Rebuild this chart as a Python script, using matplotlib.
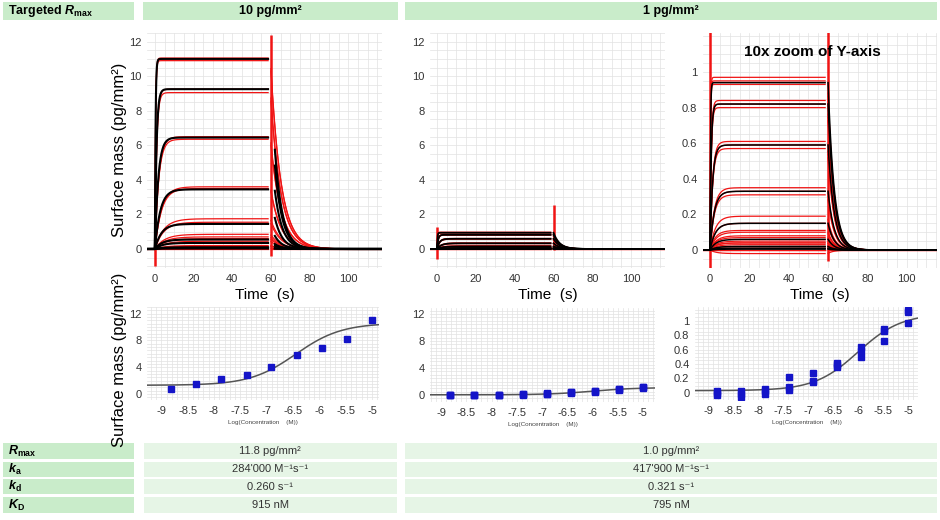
import numpy as np
import matplotlib.pyplot as plt
from matplotlib.patches import Rectangle
from matplotlib.ticker import MultipleLocator

plt.rcParams['font.family'] = ['Liberation Sans', 'DejaVu Sans']
plt.rcParams['mathtext.fontset'] = 'custom'
plt.rcParams['mathtext.rm'] = 'Liberation Sans'
plt.rcParams['mathtext.it'] = 'Liberation Sans:italic'
plt.rcParams['mathtext.bf'] = 'Liberation Sans:bold'
plt.rcParams['mathtext.bfit'] = 'Liberation Sans:bold:italic'

W, H = 940, 520

# --- fitted kinetic constants (table) ---
rmax_10, ka_10, kd_10, KD_10 = 11.8, 284000, 0.260, 915
rmax_1, ka_1, kd_1, KD_1 = 1.0, 417900, 0.321, 795

# analyte concentrations, log10(M), low -> high
log_conc = [-8.82, -8.34, -7.86, -7.38, -6.91, -6.43, -5.95, -5.48, -5.0]

# sensorgram plateau levels (pg/mm2), low -> high conc
fit_10 = [0.03, 0.1, 0.35, 0.55, 1.45, 3.45, 6.45, 9.25, 11.0]
red_10_a = [0.05, 0.2, 0.6, 0.85, 1.75, 3.6, 6.5, 9.25, 11.05]
red_10_b = [0.0, 0.15, 0.45, 0.7, 1.55, 3.5, 6.35, 9.05, 10.9]
red_decay_10 = 0.19

fit_1 = [0.005, 0.01, 0.02, 0.06, 0.15, 0.33, 0.59, 0.82, 0.94]
red_1_a = [0.03, 0.05, 0.08, 0.1, 0.19, 0.35, 0.61, 0.84, 0.97]
red_1_b = [0.0, 0.02, 0.04, 0.07, 0.15, 0.33, 0.59, 0.82, 0.95]
red_1_c = [-0.02, 0.0, 0.01, 0.04, 0.11, 0.31, 0.57, 0.8, 0.93]

# injection artefacts (time, low, high)
spikes_10 = [(0, -1.0, 0.8), (60, -0.4, 12.4)]
spikes_1_full = [(0, -0.6, 1.3), (60, -0.05, 2.55)]
spikes_1_zoom = [(0, -0.1, 1.25), (60, -0.06, 1.25)]

# dose response points
dose_10 = [0.8, 1.5, 2.2, 2.9, 4.1, 5.9, 6.9, 8.2, 11.1]
dose_1_a = [0.03, 0.03, 0.05, 0.22, 0.27, 0.42, 0.64, 0.88, 1.15]
dose_1_b = [0.0, -0.02, 0.02, 0.08, 0.16, 0.38, 0.58, 0.86, 1.12]
dose_1_c = [-0.03, -0.06, -0.02, 0.04, 0.15, 0.36, 0.5, 0.72, 0.97]

# steady-state fit (bottom, top, logEC50)
hill_10 = (1.3, 10.6, -6.45)
hill_1 = (0.03, 1.1, -6.0)


def px(x0, y0, x1, y1):
    return [x0 / W, 1 - y1 / H, (x1 - x0) / W, (y1 - y0) / H]


def sensorgram(level, logc, ka, kd, t_start, t_ref):
    kobs = ka * 10 ** logc + kd
    t1 = np.linspace(-4, 58.5, 400)
    r1 = np.where(t1 < 0, 0, level * (1 - np.exp(-kobs * np.clip(t1, 0, None))))
    t2 = np.linspace(t_start, 117, 300)
    r2 = level * np.exp(-kd * (t2 - t_ref))
    return t1, r1, t2, r2


def style(ax, xlim, ylim, xminor, yminor, labelsize=8):
    for s in ax.spines.values():
        s.set_visible(False)
    ax.set_xlim(*xlim)
    ax.set_ylim(*ylim)
    ax.xaxis.set_minor_locator(MultipleLocator(xminor))
    ax.yaxis.set_minor_locator(MultipleLocator(yminor))
    ax.grid(which='both', color='#e2e2e2', lw=0.5)
    ax.set_axisbelow(True)
    ax.tick_params(which='both', length=0, labelsize=labelsize, colors='#333333', pad=4)


fig = plt.figure(figsize=(W / 100, H / 100), dpi=100)

# --- header ---
header_green = '#c9ecca'
for x0, x1 in [(3, 134), (143, 398), (405, 937)]:
    fig.add_artist(Rectangle((x0 / W, 1 - 20 / H), (x1 - x0) / W, 18 / H,
                             transform=fig.transFigure, color=header_green, lw=0))
fig.text(8 / W, 1 - 11 / H, r'Targeted $\mathbfit{R}_{\mathbf{max}}$', fontsize=9,
         fontweight='bold', va='center')
fig.text(270 / W, 1 - 11 / H, '10 pg/mm²', fontsize=9, fontweight='bold', ha='center', va='center')
fig.text(671 / W, 1 - 11 / H, '1 pg/mm²', fontsize=9, fontweight='bold', ha='center', va='center')

# --- sensorgrams ---
panels = [
    (px(147, 33, 382, 268), (-4.1, 117.4), (-1.1, 12.5), fit_10, [red_10_a, red_10_b],
     ka_10, kd_10, red_decay_10, (62, 59.5), spikes_10, [0, 2, 4, 6, 8, 10, 12], 0.5, 1.5),
    (px(430, 33, 665, 268), (-3.6, 117.4), (-1.1, 12.5), fit_1, [red_1_a, red_1_b, red_1_c],
     ka_1, kd_1, kd_1, (60, 60), spikes_1_full, [0, 2, 4, 6, 8, 10, 12], 0.5, 1.3),
    (px(703, 33, 937, 268), (-3.6, 115.4), (-0.101, 1.219), fit_1, [red_1_a, red_1_b, red_1_c],
     ka_1, kd_1, kd_1, (60, 60), spikes_1_zoom, [0, 0.2, 0.4, 0.6, 0.8, 1], 0.05, 1.1),
]
for rect, xl, yl, fits, reds, ka, kd, kd_red, (t_start, t_ref), spikes, yt, yminor, blw in panels:
    ax = fig.add_axes(rect)
    style(ax, xl, yl, 5, yminor)
    for reps in reds:
        for lev, lc in zip(reps, log_conc):
            t1, r1, t2, r2 = sensorgram(lev, lc, ka, kd_red, 60, 59.7)
            ax.plot(t1, r1, color='#f01414', lw=0.9)
            ax.plot(t2, r2, color='#f01414', lw=0.9)
    for t, lo, hi in spikes:
        ax.vlines(t, lo, hi, color='#f01414', lw=1.8)
    for lev, lc in zip(fits, log_conc):
        t1, r1, t2, r2 = sensorgram(lev, lc, ka, kd, t_start, t_ref)
        ax.plot(t1, r1, color='black', lw=blw)
        ax.plot(t2, r2, color='black', lw=blw)
    ax.set_xticks([0, 20, 40, 60, 80, 100])
    ax.set_yticks(yt, [f'{v:g}' for v in yt])
    ax.set_xlabel('Time  (s)', fontsize=11, labelpad=3)

ax.text(52, 1.11, '10x zoom of Y-axis', fontsize=11, fontweight='bold', ha='center', va='center')

fig.text(120 / W, 1 - 150 / H, 'Surface mass (pg/mm²)', rotation=90, fontsize=12,
         ha='center', va='center')
fig.text(120 / W, 1 - 360 / H, 'Surface mass (pg/mm²)', rotation=90, fontsize=12,
         ha='center', va='center')

# --- steady-state affinity plots ---
xt = [-9, -8.5, -8, -7.5, -7, -6.5, -6, -5.5, -5]
bottoms = [
    (px(147, 307, 379, 400), (-9.27, -4.87), (-0.9, 13.0), [dose_10], hill_10, [0, 4, 8, 12], 0.5),
    (px(430, 308, 655, 402), (-9.22, -4.76), (-1.04, 12.9), [dose_1_a, dose_1_b, dose_1_c], hill_1,
     [0, 4, 8, 12], 0.5),
    (px(695, 307, 918, 400), (-9.26, -4.8), (-0.1, 1.19), [dose_1_a, dose_1_b, dose_1_c], hill_1,
     [0, 0.2, 0.4, 0.6, 0.8, 1], 0.05),
]
for rect, xl, yl, sets, (bot, top, ec50), yt, yminor in bottoms:
    ax = fig.add_axes(rect)
    style(ax, xl, yl, 0.1, yminor, labelsize=8)
    xx = np.linspace(xl[0], xl[1], 200)
    ax.plot(xx, bot + (top - bot) / (1 + 10 ** (ec50 - xx)), color='#555555', lw=1.1, zorder=2)
    for ys in sets:
        ax.plot(log_conc, ys, 's', color='#1414c8', ms=4.5, zorder=3)
    ax.set_xticks(xt, [f'{v:g}' for v in xt])
    ax.set_yticks(yt, [f'{v:g}' for v in yt])
    ax.set_xlabel('Log(Concentration    (M))', fontsize=4.5, color='#444444', labelpad=3)

# --- results table ---
label_green = '#c9ecca'
value_green = '#e6f5e6'
rows = [(443, 459), (462, 477), (479, 494), (497, 513)]
row_labels = [r'$\mathbfit{R}_{\mathbf{max}}$', r'$\mathbfit{k}_{\mathbf{a}}$',
              r'$\mathbfit{k}_{\mathbf{d}}$', r'$\mathbfit{K}_{\mathbf{D}}$']


def fmt_k(v):
    return f'{v:,}'.replace(',', "'")


col_10 = [f'{rmax_10:.1f} pg/mm²', f'{fmt_k(ka_10)} M⁻¹s⁻¹', f'{kd_10:.3f} s⁻¹', f'{KD_10} nM']
col_1 = [f'{rmax_1:.1f} pg/mm²', f'{fmt_k(ka_1)} M⁻¹s⁻¹', f'{kd_1:.3f} s⁻¹', f'{KD_1} nM']
for (y0, y1), lab, v10, v1 in zip(rows, row_labels, col_10, col_1):
    for x0, x1, c in [(3, 134, label_green), (144, 397, value_green), (405, 937, value_green)]:
        fig.add_artist(Rectangle((x0 / W, 1 - y1 / H), (x1 - x0) / W, (y1 - y0) / H,
                                 transform=fig.transFigure, color=c, lw=0))
    yc = 1 - (y0 + y1) / 2 / H
    fig.text(8 / W, yc, lab, fontsize=9, va='center')
    fig.text(270 / W, yc, v10, fontsize=8, ha='center', va='center', color='#333333')
    fig.text(671 / W, yc, v1, fontsize=8, ha='center', va='center', color='#333333')

fig.savefig('out.png', dpi=100)
